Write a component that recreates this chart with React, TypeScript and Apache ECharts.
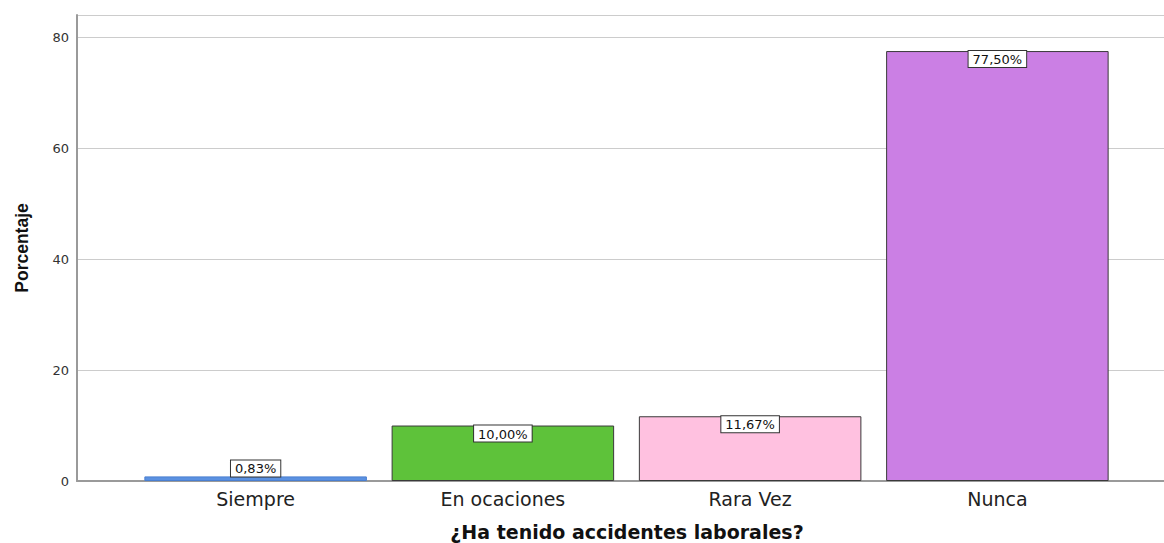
import React, { useEffect, useRef } from "react";
import * as echarts from "echarts";

const categories = ["Siempre", "En ocaciones", "Rara Vez", "Nunca"];
const percentages = [0.83, 10.0, 11.67, 77.5];
const barColors = ["#5B91E1", "#5EC23A", "#FFC1E0", "#CB7FE4"];
const yTicks = [0, 20, 40, 60, 80];
const xTitle = "¿Ha tenido accidentes laborales?";
const yTitle = "Porcentaje";

const fmt = (v: number) => v.toFixed(2).replace(".", ",") + "%";

export default function App() {
  const ref = useRef<HTMLDivElement>(null);
  useEffect(() => {
    document.body.style.margin = "0";
    const chart = echarts.init(ref.current!, null, { renderer: "svg" });
    const yMax = 84;
    const labelBase = {
      show: true,
      formatter: (p: any) => fmt(p.value),
      backgroundColor: "#ffffff",
      borderColor: "#333333",
      borderWidth: 1,
      padding: [2, 4, 1, 4],
      fontFamily: "DejaVu Sans",
      fontSize: 13,
      color: "#111111",
    };
    chart.setOption({
      animation: false,
      backgroundColor: "#ffffff",
      grid: [
        { left: 77, right: 0, top: 15, bottom: 62 },
        { left: 132, right: 43, top: 15, bottom: 62 },
      ],
      xAxis: [
        {
          type: "category",
          gridIndex: 0,
          data: [""],
          axisLine: { show: true, lineStyle: { color: "#9a9a9a", width: 2 } },
          axisTick: { show: false },
          axisLabel: { show: false },
          splitLine: { show: false },
        },
        {
          type: "category",
          gridIndex: 1,
          data: categories,
          axisLine: { show: false },
          axisTick: { show: false },
          axisLabel: {
            margin: 8,
            fontFamily: "DejaVu Sans",
            fontSize: 19,
            color: "#222222",
          },
        },
      ],
      yAxis: [
        {
          type: "value",
          gridIndex: 0,
          min: 0,
          max: yMax,
          interval: 20,
          axisLine: { show: true, lineStyle: { color: "#9a9a9a", width: 2 } },
          axisTick: { show: false },
          axisLabel: {
            margin: 8,
            fontFamily: "DejaVu Sans",
            fontSize: 13,
            color: "#333333",
            formatter: (v: number) => (yTicks.includes(v) ? String(v) : ""),
          },
          splitLine: { show: true, lineStyle: { color: "#cccccc", width: 1 } },
        },
        {
          type: "value",
          gridIndex: 1,
          min: 0,
          max: yMax,
          interval: 20,
          show: false,
          splitLine: { show: false },
        },
      ],
      graphic: [
        {
          type: "text",
          x: 627,
          y: 532,
          style: {
            text: xTitle,
            align: "center",
            verticalAlign: "middle",
            fontFamily: "DejaVu Sans",
            fontWeight: "bold",
            fontSize: 19,
            fill: "#111111",
          },
        },
        {
          type: "text",
          x: 22,
          y: 248,
          rotation: Math.PI / 2,
          style: {
            text: yTitle,
            align: "center",
            verticalAlign: "middle",
            fontFamily: "Liberation Sans",
            fontWeight: "bold",
            fontSize: 17.5,
            fill: "#111111",
          },
        },
      ],
      series: [
        {
          type: "bar",
          xAxisIndex: 1,
          yAxisIndex: 1,
          barWidth: "90%",
          data: percentages.map((v, i) => ({
            value: v,
            itemStyle: {
              color: barColors[i],
              borderColor: i === 0 ? "#4a7fd0" : "#3a3a3a",
              borderWidth: 1,
            },
            label:
              v < 3
                ? { ...labelBase, position: "top", distance: 0 }
                : { ...labelBase, position: "insideTop", distance: 0 },
          })),
        },
      ],
    });
    return () => chart.dispose();
  }, []);
  return (
    <div
      ref={ref}
      style={{ position: "absolute", left: 0, top: 0, width: 1164, height: 543 }}
    />
  );
}
